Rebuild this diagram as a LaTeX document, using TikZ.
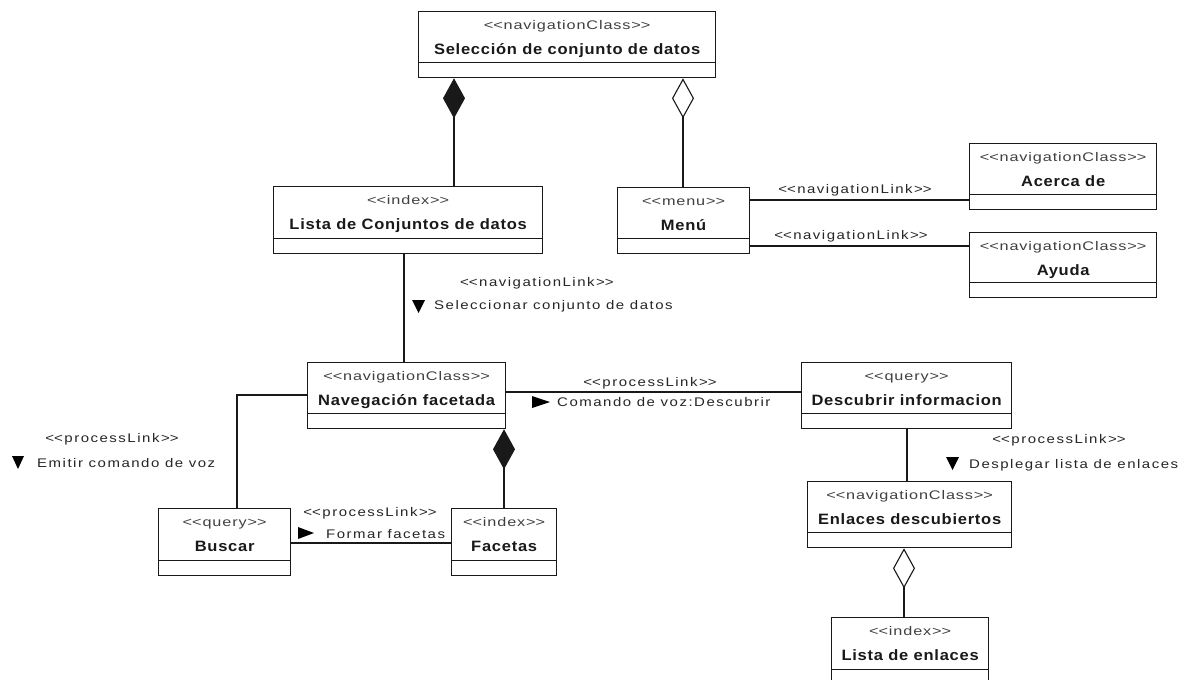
\documentclass[tikz,border=0pt]{standalone}
\usepackage{fontspec}
\setmainfont{Liberation Sans}
\newfontfamily\stfont[FakeStretch=1.3, LetterSpace=7]{Liberation Sans}
\newfontfamily\nmfont[FakeStretch=1.1, LetterSpace=5]{Liberation Sans}
\newfontfamily\lbfont[FakeStretch=1.2, LetterSpace=12]{Liberation Sans}
\usetikzlibrary{arrows.meta}
\newcommand\stq[1]{<\kern0pt<#1>\kern0pt>}
\tikzset{
  umlbox/.style={draw=black!90, line width=1.3pt, inner sep=0pt, anchor=north west, fill=white},
  divline/.style={draw=black!90, line width=1.3pt},
  sttext/.style={inner sep=0pt, anchor=base, font=\stfont\fontsize{12.5}{14}\selectfont, text=black!75},
  nmtext/.style={inner sep=0pt, anchor=base, font=\nmfont\bfseries\fontsize{15}{17}\selectfont, text=black!90},
  lbtext/.style={inner sep=0pt, font=\lbfont\fontsize{12.5}{14}\selectfont, text=black!85},
  conn/.style={draw=black!90, line width=1.1pt},
  comp/.style={conn, -{Diamond[length=40pt,width=22pt]}},
  aggr/.style={conn, -{Diamond[open,length=40pt,width=22pt]}},
  tri/.style={fill=black}
}
\newcommand\umlclass[7]{%
  \node[umlbox, minimum width={(#4-#2)*1pt}, minimum height={(#5-#3)*1pt}] (#1) at (#2,#3) {};
  \draw[divline] ([yshift=16pt]#1.south west) -- ([yshift=16pt]#1.south east);
  \node[sttext] (#1-st) at ([yshift=-18pt]#1.north) {#6};
  \node[nmtext] (#1-nm) at ([yshift=-43pt]#1.north) {#7};
}
\begin{document}
\begin{tikzpicture}[x=1pt, y=-1pt]
\useasboundingbox (0,0) rectangle (1186,680);
\fill[white] (0,0) rectangle (1186,680);

\umlclass{sel}{418}{11}{715}{77}{\stq{navigationClass}}{Selección de conjunto de datos}
\umlclass{lista}{273}{186}{542}{253}{\stq{index}}{Lista de Conjuntos de datos}
\umlclass{menu}{617}{187}{749}{253}{\stq{menu}}{Menú}
\umlclass{acerca}{969}{143}{1156}{209}{\stq{navigationClass}}{Acerca de}
\umlclass{ayuda}{969}{232}{1156}{297}{\stq{navigationClass}}{Ayuda}
\umlclass{nav}{307}{362}{505}{428}{\stq{navigationClass}}{Navegación facetada}
\umlclass{desc}{801}{362}{1011}{428}{\stq{query}}{Descubrir informacion}
\umlclass{buscar}{158}{508}{290}{575}{\stq{query}}{Buscar}
\umlclass{facetas}{451}{508}{556}{575}{\stq{index}}{Facetas}
\umlclass{enlaces}{807}{481}{1011}{547}{\stq{navigationClass}}{Enlaces descubiertos}
\umlclass{listaen}{831}{617}{988}{684}{\stq{index}}{Lista de enlaces}

\coordinate (c454) at (454,0);
\coordinate (c683) at (683,0);
\coordinate (c404) at (404,0);
\coordinate (c237) at (237,0);
\coordinate (c504) at (504,0);
\coordinate (c907) at (907,0);
\coordinate (c904) at (904,0);
\coordinate (c200) at (0,200);
\coordinate (c246) at (0,246);
\coordinate (c392) at (0,392);
\coordinate (c395) at (0,395);
\coordinate (c543) at (0,543);

\draw[comp] (lista.north -| c454) -- (sel.south -| c454);
\draw[aggr] (menu.north -| c683) -- (sel.south -| c683);
\draw[conn] (menu.east |- c200) -- (acerca.west |- c200);
\draw[conn] (menu.east |- c246) -- (ayuda.west |- c246);
\draw[conn] (lista.south -| c404) -- (nav.north -| c404);
\draw[conn] (nav.east |- c392) -- (desc.west |- c392);
\draw[conn] (nav.west |- c395) -| (buscar.north -| c237);
\draw[comp] (facetas.north -| c504) -- (nav.south -| c504);
\draw[conn] (buscar.east |- c543) -- (facetas.west |- c543);
\draw[conn] (desc.south -| c907) -- (enlaces.north -| c907);
\draw[aggr] (listaen.north -| c904) -- (enlaces.south -| c904);

\node[lbtext, anchor=base] (l1) at (855,193) {\stq{navigationLink}};
\node[lbtext, anchor=base] (l2) at (851,239) {\stq{navigationLink}};
\node[lbtext, anchor=base west] (l3) at (460,286) {\stq{navigationLink}};
\node[lbtext, anchor=base west] (l3b) at (434,309) {Seleccionar conjunto de datos};
\fill[tri] (412,300) -- (425,300) -- (418.5,313) -- cycle;
\node[lbtext, anchor=base] (l4) at (650,386) {\stq{processLink}};
\node[lbtext, anchor=base west] (l4b) at (557,406) {Comando de voz:Descubrir};
\fill[tri] (532,396) -- (550,402) -- (532,408) -- cycle;
\node[lbtext, anchor=base] (l5) at (112,442) {\stq{processLink}};
\node[lbtext, anchor=base west] (l5b) at (37,467) {Emitir comando de voz};
\fill[tri] (12,456) -- (24,456) -- (18,469) -- cycle;
\node[lbtext, anchor=base] (l6) at (370,516) {\stq{processLink}};
\fill[tri] (298,527) -- (314,533) -- (298,539) -- cycle;
\node[lbtext, anchor=base west] (l6b) at (326,538) {Formar facetas};
\node[lbtext, anchor=base] (l7) at (1059,443) {\stq{processLink}};
\fill[tri] (946,457) -- (959,457) -- (952.5,470) -- cycle;
\node[lbtext, anchor=base west] (l7b) at (969,468) {Desplegar lista de enlaces};
\end{tikzpicture}
\end{document}
